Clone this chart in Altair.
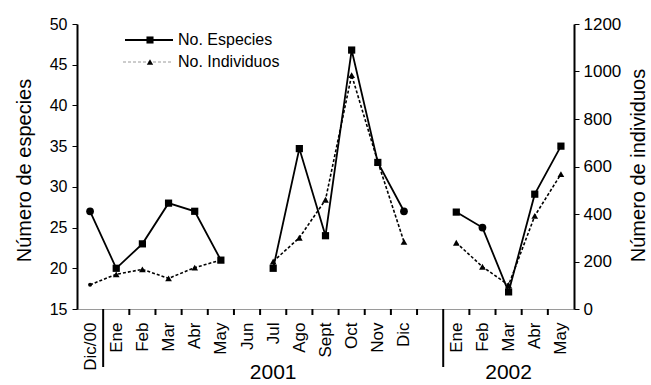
import altair as alt
import pandas as pd

# Monthly samples, Dec 2000 to May 2002 (one empty slot separates the years)
meses = ["Dic/00", "Ene", "Feb", "Mar", "Abr", "May", "Jun", "Jul", "Ago", "Sept",
         "Oct", "Nov", "Dic", "", "Ene", "Feb", "Mar", "Abr", "May"]
especies = [27, 20, 23, 28, 27, 21, None, 20, 34.7, 24, 46.8, 33, 27, None,
            26.9, 25, 17.1, 29.1, 35]
individuos = [102, 146, 167, 129, 174, 206, None, 200, 300, 460, 985, 620, 283, None,
              279, 178, 101, 392, 568]

# Year groups on the category axis: (label, first slot, last slot)
grupos_anio = [("2001", 1, 13), ("2002", 14, 18)]

# Slots drawn with a round marker instead of the series' usual one
circulo_especies = {0, 12, 15}
circulo_individuos = {0}

ticks_y_esp = [15, 20, 25, 30, 35, 40, 45, 50]
ticks_y_ind = [0, 200, 400, 600, 800, 1000, 1200]

FONT = "Liberation Sans, Arial, sans-serif"
W, H = 497, 285

# Marker style per marker kind
MARCAS = ["cuadro", "circulo", "triangulo", "punto"]
FORMAS = ["square", "circle", "triangle-up", "circle"]
TAMANOS = [52, 60, 45, 16]


def tramos(valores):
    """Segment id for each non-missing value, so lines break at gaps."""
    seg, out, prev = 0, [], False
    for v in valores:
        if v is None:
            if prev:
                seg += 1
            prev = False
            out.append(None)
        else:
            prev = True
            out.append(seg)
    return out


pos = list(range(len(meses)))
base = pd.DataFrame({"pos": pos, "mes": meses})

df_esp = base.assign(
    especies=especies, tramo=tramos(especies),
    marca=["circulo" if i in circulo_especies else "cuadro" for i in pos],
)
df_esp = df_esp[df_esp["especies"].notna()]

df_ind = base.assign(
    individuos=individuos, tramo=tramos(individuos),
    marca=["punto" if i in circulo_individuos else "triangulo" for i in pos],
)
df_ind = df_ind[df_ind["individuos"].notna()]

x_scale = alt.Scale(domain=[-0.5, len(meses) - 0.5], nice=False, zero=False)
etiquetas_js = "[" + ",".join("'" + m + "'" for m in meses) + "]"

x_axis = alt.Axis(
    values=[i for i, m in enumerate(meses) if m],
    labelExpr=etiquetas_js + "[datum.value]",
    labelAngle=270, labelAlign="right", labelBaseline="middle",
    labelPadding=13, labelFont=FONT, labelFontSize=17, labelColor="black",
    labelOverlap=False, labelFlush=False,
    ticks=False, tickSize=0, grid=False,
    domainColor="#9a9a9a", domainWidth=1, title=None,
)
x_enc = alt.X("pos:Q", scale=x_scale, axis=x_axis)

forma = alt.Shape("marca:N", scale=alt.Scale(domain=MARCAS, range=FORMAS), legend=None)
tamano = alt.Size("marca:N", scale=alt.Scale(type="ordinal", domain=MARCAS, range=TAMANOS),
                  legend=None)

y_esp = alt.Y(
    "especies:Q",
    scale=alt.Scale(domain=[15, 50], nice=False, zero=False),
    axis=alt.Axis(
        orient="left", values=ticks_y_esp, grid=False,
        domainColor="black", domainWidth=2,
        tickColor="black", tickSize=5, tickWidth=1,
        labelPadding=5, labelFont=FONT, labelFontSize=16, labelColor="black",
        title="Número de especies", titleFont=FONT, titleFontSize=20,
        titleFontWeight="normal", titleColor="black", titleAngle=270,
        titleBaseline="middle", titleX=-53, titleY=146,
    ),
)
y_ind = alt.Y(
    "individuos:Q",
    scale=alt.Scale(domain=[0, 1200], nice=False, zero=True),
    axis=alt.Axis(
        orient="right", values=ticks_y_ind, format="d", grid=False,
        domainColor="black", domainWidth=2,
        tickColor="black", tickSize=5, tickWidth=1,
        labelPadding=4, labelFont=FONT, labelFontSize=17, labelColor="black",
        title="Número de individuos", titleFont=FONT, titleFontSize=20,
        titleFontWeight="normal", titleColor="black", titleAngle=270,
        titleBaseline="middle", titleX=64, titleY=141,
    ),
)

# Individuals: dashed line with triangles (right axis)
ind_linea = alt.Chart(df_ind).mark_line(color="black", strokeWidth=1.6,
                                        strokeDash=[3, 2]).encode(
    x=x_enc, y=y_ind, detail="tramo:N", order="pos:Q")
ind_puntos = alt.Chart(df_ind).mark_point(filled=True, color="black", opacity=1).encode(
    x=x_enc, y=y_ind, shape=forma, size=tamano)
capa_ind = alt.layer(ind_linea, ind_puntos)

# Species: solid line with square / round markers (left axis)
esp_linea = alt.Chart(df_esp).mark_line(color="black", strokeWidth=1.8).encode(
    x=x_enc, y=y_esp, detail="tramo:N", order="pos:Q")
esp_puntos = alt.Chart(df_esp).mark_point(filled=True, color="black", opacity=1).encode(
    x=x_enc, y=y_esp, shape=forma, size=tamano)
capa_esp = alt.layer(esp_linea, esp_puntos)

# Category ticks between months, long separators before each year, year labels
ticks_x, separadores, anios = [], [], []
for etiqueta, primero, ultimo in grupos_anio:
    separadores.append(primero - 0.5)
    ticks_x.extend(i + 0.5 for i in range(primero, ultimo))
    anios.append({"pos": (primero + ultimo) / 2, "anio": etiqueta})

marcas_x = alt.Chart(pd.DataFrame({"pos": ticks_x})).mark_rule(
    color="black", strokeWidth=2).encode(
    x=x_enc, y=alt.value(H), y2=alt.value(H + 6))
lineas_sep = alt.Chart(pd.DataFrame({"pos": separadores})).mark_rule(
    color="black", strokeWidth=2).encode(
    x=x_enc, y=alt.value(H), y2=alt.value(H + 58))
texto_anios = alt.Chart(pd.DataFrame(anios)).mark_text(
    font=FONT, fontSize=21, color="black", baseline="middle").encode(
    x=x_enc, y=alt.value(H + 64), text="anio:N")

# Legend (line sample, marker, label)
uno = base.head(1)
leg_esp_linea = alt.Chart(uno).mark_rule(color="black", strokeWidth=2).encode(
    x=alt.value(48), x2=alt.value(96), y=alt.value(16))
leg_esp_punto = alt.Chart(uno).mark_point(
    filled=True, color="black", opacity=1, shape="square", size=50).encode(
    x=alt.value(73), y=alt.value(16))
leg_esp_texto = alt.Chart(uno).mark_text(
    font=FONT, fontSize=16, color="black", align="left", baseline="middle").encode(
    x=alt.value(101), y=alt.value(16), text=alt.value("No. Especies"))
leg_ind_linea = alt.Chart(uno).mark_rule(
    color="#9a9a9a", strokeWidth=1, strokeDash=[3, 2]).encode(
    x=alt.value(46), x2=alt.value(96), y=alt.value(38))
leg_ind_punto = alt.Chart(uno).mark_point(
    filled=True, color="black", opacity=1, shape="triangle-up", size=40).encode(
    x=alt.value(73), y=alt.value(38))
leg_ind_texto = alt.Chart(uno).mark_text(
    font=FONT, fontSize=16, color="black", align="left", baseline="middle").encode(
    x=alt.value(101), y=alt.value(38), text=alt.value("No. Individuos"))

chart = alt.layer(
    capa_ind, capa_esp, marcas_x, lineas_sep, texto_anios,
    leg_esp_linea, leg_esp_punto, leg_esp_texto,
    leg_ind_linea, leg_ind_punto, leg_ind_texto,
).resolve_scale(y="independent").properties(
    width=W, height=H,
    autosize=alt.AutoSizeParams(type="none"),
    padding={"left": 77, "top": 24, "right": 77, "bottom": 76},
    background="white",
).configure_view(stroke=None)

chart.save("out.html", embed_options={"renderer": "svg", "actions": False})
